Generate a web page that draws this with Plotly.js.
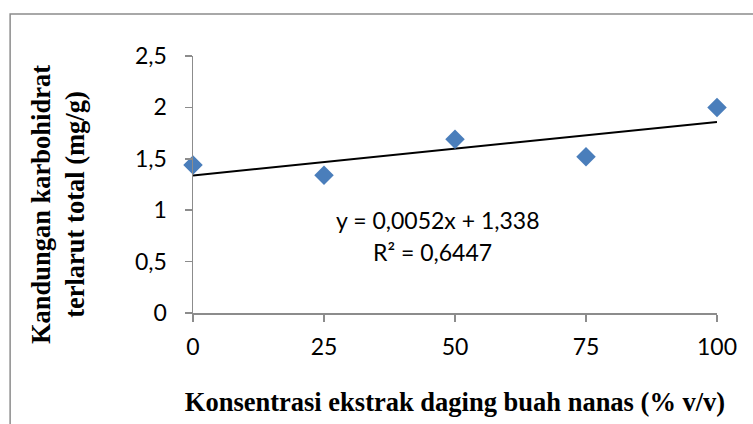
<!DOCTYPE html>
<html>
<head>
<meta charset="utf-8">
<script src="https://cdn.plot.ly/plotly-3.0.1.min.js"></script>
<style>html,body{margin:0;padding:0;background:#fff;}</style>
</head>
<body>
<div id="chart" style="width:753px;height:424px;"></div>
<script>
// Data
const konsentrasi = [0, 25, 50, 75, 100];
const karbohidrat = [1.44, 1.34, 1.69, 1.52, 2.00];
const slope = 0.0052;
const intercept = 1.338;
const trendX = [0, 100];
const trendY = trendX.map(x => slope * x + intercept);
const xTickVals = [0, 25, 50, 75, 100];
const xTickText = ['0', '25', '50', '75', '100'];
const yTickVals = [0, 0.5, 1, 1.5, 2, 2.5];
const yTickText = ['0', '0,5', '1', '1,5', '2', '2,5'];
const eqText = 'y = 0,0052x + 1,338';
const r2Text = 'R² = 0,6447';
const xTitle = 'Konsentrasi ekstrak daging buah nanas (% v/v)';
const yTitle = 'Kandungan karbohidrat<br>terlarut total (mg/g)';

const tickFont = {family: 'Lato, "Open Sans", sans-serif', size: 23, color: '#000'};
const titleFont = {family: '"Liberation Serif", "Times New Roman", serif', size: 26.5, color: '#000'};

const data = [
  {
    x: trendX, y: trendY, mode: 'lines', type: 'scatter',
    line: {color: '#000', width: 2}, hoverinfo: 'skip', cliponaxis: false
  },
  {
    x: konsentrasi, y: karbohidrat, mode: 'markers', type: 'scatter',
    marker: {symbol: 'diamond', size: 15, color: '#4a7ebb'}, cliponaxis: false
  }
];

const layout = {
  width: 753, height: 424,
  margin: {l: 193, r: 36, t: 56, b: 111},
  paper_bgcolor: '#fff', plot_bgcolor: '#fff',
  showlegend: false,
  xaxis: {
    range: [0, 100], tickvals: xTickVals, ticktext: xTickText,
    showgrid: false, zeroline: false, showline: true, linecolor: '#8c8c8c', linewidth: 1.5,
    ticks: 'outside', ticklen: 7, tickcolor: '#8c8c8c', tickwidth: 1.5,
    tickfont: tickFont, ticklabelstandoff: 6,
    title: {text: '<b>' + xTitle + '</b>', font: titleFont, standoff: 33}
  },
  yaxis: {
    range: [0, 2.5], tickvals: yTickVals, ticktext: yTickText,
    showgrid: false, zeroline: false, showline: true, linecolor: '#8c8c8c', linewidth: 1.5,
    ticks: 'outside', ticklen: 7, tickcolor: '#8c8c8c', tickwidth: 1.5,
    tickfont: tickFont, ticklabelstandoff: 13
  },
  annotations: [
    {x: 46.6, y: 0.905, xref: 'x', yref: 'y', text: eqText, showarrow: false, font: tickFont},
    {x: 45.8, y: 0.59, xref: 'x', yref: 'y', text: r2Text, showarrow: false, font: tickFont},
    {x: -0.2576, y: 0.42, xref: 'paper', yref: 'paper', text: '<b>' + yTitle + '</b>', textangle: -90,
     showarrow: false, font: titleFont, xanchor: 'center', yanchor: 'middle'}
  ],
  shapes: [
    {type: 'rect', xref: 'paper', yref: 'paper', x0: -0.349, x1: 1.2, y0: -0.6, y1: 1.163,
     line: {color: '#8c8c8c', width: 1.5}, fillcolor: 'rgba(0,0,0,0)', layer: 'below'}
  ]
};

Plotly.newPlot('chart', data, layout, {displayModeBar: false, staticPlot: true});
</script>
</body>
</html>
